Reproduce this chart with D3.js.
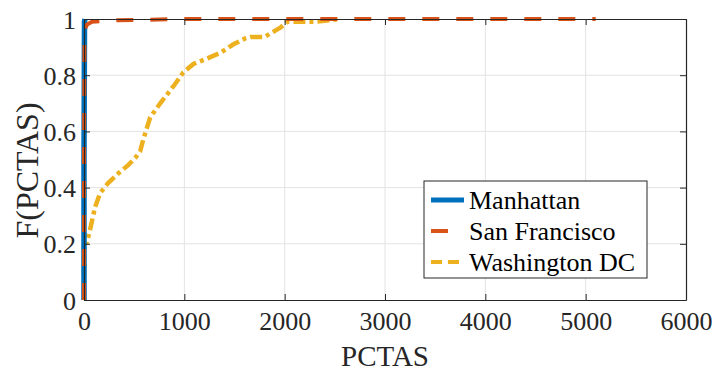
<!DOCTYPE html>
<html>
<head>
<meta charset="utf-8">
<script src="https://cdn.jsdelivr.net/npm/d3@7"></script>
<style>
  body { margin: 0; background: #fff; }
  svg { display: block; }
  svg text { font-family: "Liberation Serif", "Times New Roman", Times, "DejaVu Serif", serif; }
  .grid line { stroke: #e3e3e3; stroke-width: 1; }
</style>
</head>
<body>
<svg id="chart" width="714" height="372"></svg>
<script>
// DATA
const xTicks = [0, 1000, 2000, 3000, 4000, 5000, 6000];
const yTicks = [0, 0.2, 0.4, 0.6, 0.8, 1];

const manhattanX = [0, 0, 5, 10];
const manhattanY = [0, 0.5, 0.99, 1];

const sanFranciscoX = [0, 0, 5, 30, 80, 300, 1000, 5100];
const sanFranciscoY = [0, 0.5, 0.96, 0.98, 0.99, 0.995, 1, 1];

const washingtonX = [0, 0, 30, 60, 110, 160, 240, 340, 440, 510, 560, 590, 660, 760, 890, 990, 1090, 1230, 1360, 1490, 1600, 1660, 1800, 1960, 2025, 2300, 2550];
const washingtonY = [0, 0.2, 0.206, 0.25, 0.33, 0.38, 0.416, 0.45, 0.48, 0.505, 0.53, 0.57, 0.65, 0.70, 0.76, 0.81, 0.84, 0.86, 0.88, 0.91, 0.93, 0.936, 0.936, 0.97, 0.99, 0.99, 1];

const seriesNames = ['Manhattan', 'San Francisco', 'Washington DC'];
const seriesColors = ['#0072BD', '#D95319', '#EDB120'];

const serif = '"Liberation Serif", "Times New Roman", Times, "DejaVu Serif", serif';

// LAYOUT
const svg = d3.select('#chart');
const margin = { top: 19, right: 28, bottom: 72, left: 84 };
const width = +svg.attr('width') - margin.left - margin.right;
const height = +svg.attr('height') - margin.top - margin.bottom;
const g = svg.append('g').attr('transform', `translate(${margin.left},${margin.top})`);

// SCALES
const x = d3.scaleLinear().domain([0, 6000]).range([0, width]);
const y = d3.scaleLinear().domain([0, 1]).range([height, 0]);

// GRID
g.append('g').attr('class', 'grid')
  .selectAll('line').data(xTicks.slice(1, -1)).join('line')
  .attr('x1', d => x(d)).attr('x2', d => x(d)).attr('y1', 0).attr('y2', height);
g.append('g').attr('class', 'grid')
  .selectAll('line').data(yTicks.slice(1, -1)).join('line')
  .attr('y1', d => y(d)).attr('y2', d => y(d)).attr('x1', 0).attr('x2', width);

// LINES
const line = d3.line().x(d => x(d[0])).y(d => y(d[1]));
const zip = (xs, ys) => xs.map((v, i) => [v, ys[i]]);

const series = [
  { pts: zip(manhattanX, manhattanY), dash: null, w: 5.5 },
  { pts: zip(sanFranciscoX, sanFranciscoY), dash: '17,17', w: 4 },
  { pts: zip(washingtonX, washingtonY), dash: '12,4,4,4', w: 4.5 }
];

// yellow first, then blue, then orange dashes on top
[2, 0, 1].forEach(i => {
  g.append('path')
    .datum(series[i].pts)
    .attr('d', line)
    .attr('fill', 'none')
    .attr('stroke', seriesColors[i])
    .attr('stroke-width', series[i].w)
    .attr('stroke-dasharray', series[i].dash);
});

// AXES
const axisColor = '#262626';
const fmt = d => d3.format('')(d);
const xAxis = g.append('g').attr('transform', `translate(0,${height})`)
  .call(d3.axisBottom(x).tickValues(xTicks).tickSizeInner(-6).tickSizeOuter(0).tickPadding(12).tickFormat(fmt));
const yAxis = g.append('g')
  .call(d3.axisLeft(y).tickValues(yTicks).tickSizeInner(-6).tickSizeOuter(0).tickPadding(8).tickFormat(fmt));
const xTop = g.append('g')
  .call(d3.axisTop(x).tickValues(xTicks).tickSizeInner(-6).tickSizeOuter(0).tickFormat(''));
const yRight = g.append('g').attr('transform', `translate(${width},0)`)
  .call(d3.axisRight(y).tickValues(yTicks).tickSizeInner(-6).tickSizeOuter(0).tickFormat(''));

[xAxis, yAxis, xTop, yRight].forEach(a => {
  a.attr('font-family', serif);
  a.select('.domain').attr('stroke', axisColor).attr('stroke-width', 1.2);
  a.selectAll('.tick line').attr('stroke', axisColor);
  a.selectAll('text')
    .attr('fill', '#262626')
    .attr('font-family', serif)
    .style('font-size', '26px');
});
xAxis.selectAll('text').attr('dy', '0.71em');
yAxis.selectAll('text').attr('dy', '0.35em');

// AXIS LABELS
g.append('text')
  .attr('x', width / 2)
  .attr('y', height + 66)
  .attr('text-anchor', 'middle')
  .attr('fill', '#262626')
  .attr('font-family', serif)
  .style('font-size', '29px')
  .text('PCTAS');

g.append('text')
  .attr('transform', `translate(${-46},${height / 2 + 11}) rotate(-90)`)
  .attr('text-anchor', 'middle')
  .attr('fill', '#262626')
  .attr('font-family', serif)
  .style('font-size', '32px')
  .text('F(PCTAS)');

// LEGEND
const legend = svg.append('g').attr('transform', 'translate(424,181)');
legend.append('rect')
  .attr('width', 223).attr('height', 97)
  .attr('fill', '#fff').attr('stroke', '#262626').attr('stroke-width', 1);

const legendDash = [null, '17,40', '11,6'];
seriesNames.forEach((name, i) => {
  const cy = 19 + i * 31;
  legend.append('line')
    .attr('x1', 7).attr('x2', 40).attr('y1', cy).attr('y2', cy)
    .attr('stroke', seriesColors[i])
    .attr('stroke-width', i === 0 ? 5 : 4)
    .attr('stroke-dasharray', legendDash[i]);
  legend.append('text')
    .attr('x', 45).attr('y', cy)
    .attr('dy', '0.35em')
    .attr('fill', '#000')
    .attr('font-family', serif)
    .style('font-size', '26px')
    .text(name);
});
</script>
</body>
</html>
